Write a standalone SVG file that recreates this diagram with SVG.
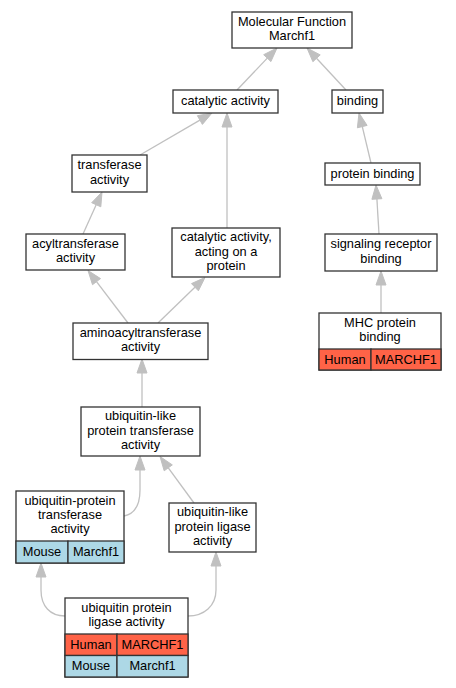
<svg xmlns="http://www.w3.org/2000/svg" width="456" height="688" viewBox="0 0 456 688">
<style>
.bg{fill:#ffffff}
.box{fill:#ffffff;stroke:#333333;stroke-width:1.3}
.cell{stroke:#333333;stroke-width:1.3}
.human{fill:#ff6347}
.mouse{fill:#add8e6}
text{font-family:"Liberation Sans",Arial,sans-serif;font-size:12.8px;fill:#000000;text-anchor:middle}
.edge{fill:none;stroke:#c0c0c0;stroke-width:1.3}
.head{fill:#c0c0c0;stroke:#c0c0c0;stroke-width:1}
</style>
<rect class="bg" x="0" y="0" width="456" height="688"/>
<g id="connectors">
<line class="edge" x1="237" y1="90" x2="267.3" y2="58.1"/>
<polygon class="head" points="277,48 270.9,61.6 263.7,54.7"/>
<line class="edge" x1="346" y1="90" x2="316.5" y2="58.3"/>
<polygon class="head" points="307,48 320.2,54.9 312.9,61.7"/>
<line class="edge" x1="140" y1="155" x2="199.9" y2="120.1"/>
<polygon class="head" points="212,113 202.4,124.4 197.4,115.7"/>
<line class="edge" x1="227" y1="228" x2="227" y2="127"/>
<polygon class="head" points="227,113 232,127 222,127"/>
<line class="edge" x1="371" y1="163" x2="362.3" y2="126.6"/>
<polygon class="head" points="359,113 367.1,125.4 357.4,127.8"/>
<line class="edge" x1="379" y1="234" x2="376.9" y2="199"/>
<polygon class="head" points="376,185 381.9,198.7 371.9,199.3"/>
<line class="edge" x1="381" y1="313" x2="381" y2="285"/>
<polygon class="head" points="381,271 386,285 376,285"/>
<line class="edge" x1="83" y1="234" x2="96.2" y2="204.8"/>
<polygon class="head" points="102,192 100.8,206.8 91.7,202.7"/>
<line class="edge" x1="128" y1="323" x2="96.5" y2="281.6"/>
<polygon class="head" points="88,270.5 100.5,278.6 92.5,284.7"/>
<line class="edge" x1="158" y1="323" x2="194.9" y2="287.2"/>
<polygon class="head" points="205,277.5 198.4,290.8 191.5,283.6"/>
<line class="edge" x1="142" y1="407" x2="142" y2="373"/>
<polygon class="head" points="142,359 147,373 137,373"/>
<path class="edge" d="M124,516 C134,514 140,505 140,490 L140,470"/>
<polygon class="head" points="140,456 145,470 135,470"/>
<line class="edge" x1="194" y1="503" x2="168.3" y2="467.8"/>
<polygon class="head" points="160,456.5 172.3,464.9 164.2,470.8"/>
<path class="edge" d="M65,616 C50,616 41,606 41,590 L41,577"/>
<polygon class="head" points="41,563 46,577 36,577"/>
<path class="edge" d="M188,616 C204,616 216,606 216,590 L216,566"/>
<polygon class="head" points="216,552 221,566 211,566"/>
</g>
<g id="node-molecular-function">
<rect class="box" x="232" y="12" width="120" height="36"/>
<text x="292" y="25.9">Molecular Function</text>
<text x="292" y="40.2">Marchf1</text>
</g>
<g id="node-catalytic-activity">
<rect class="box" x="173" y="90" width="105" height="23"/>
<text x="225.5" y="105">catalytic activity</text>
</g>
<g id="node-binding">
<rect class="box" x="332" y="90" width="51" height="23"/>
<text x="357.5" y="105">binding</text>
</g>
<g id="node-protein-binding">
<rect class="box" x="325" y="163" width="95" height="22"/>
<text x="372.5" y="177.5">protein binding</text>
</g>
<g id="node-transferase-activity">
<rect class="box" x="72" y="155" width="75" height="37"/>
<text x="109.5" y="169.4">transferase</text>
<text x="109.5" y="183.7">activity</text>
</g>
<g id="node-acyltransferase-activity">
<rect class="box" x="26" y="234" width="99" height="36"/>
<text x="75.5" y="247.9">acyltransferase</text>
<text x="75.5" y="262.2">activity</text>
</g>
<g id="node-catalytic-activity-protein">
<rect class="box" x="172" y="228" width="108" height="49"/>
<text x="226" y="241.2">catalytic activity,</text>
<text x="226" y="255.5">acting on a</text>
<text x="226" y="269.8">protein</text>
</g>
<g id="node-aminoacyltransferase-activity">
<rect class="box" x="73" y="323" width="135" height="36.5"/>
<text x="140.5" y="337.1">aminoacyltransferase</text>
<text x="140.5" y="351.4">activity</text>
</g>
<g id="node-signaling-receptor-binding">
<rect class="box" x="325" y="234" width="112" height="37"/>
<text x="381" y="248.4">signaling receptor</text>
<text x="381" y="262.7">binding</text>
</g>
<g id="node-mhc-protein-binding">
<rect class="box" x="319" y="313" width="122" height="57"/>
<text x="380" y="326.9">MHC protein</text>
<text x="380" y="341.2">binding</text>
<rect class="cell human" x="319" y="349" width="52" height="21"/>
<rect class="cell human" x="371" y="349" width="70" height="21"/>
<text x="345" y="363.5">Human</text>
<text x="406" y="363.5">MARCHF1</text>
</g>
<g id="node-ubiquitin-like-protein-transferase-activity">
<rect class="box" x="81" y="407" width="119" height="49"/>
<text x="140.5" y="420.2">ubiquitin-like</text>
<text x="140.5" y="434.5">protein transferase</text>
<text x="140.5" y="448.8">activity</text>
</g>
<g id="node-ubiquitin-protein-transferase-activity">
<rect class="box" x="16" y="491" width="108" height="72"/>
<text x="70" y="504.7">ubiquitin-protein</text>
<text x="70" y="519">transferase</text>
<text x="70" y="533.3">activity</text>
<rect class="cell mouse" x="16" y="541" width="52" height="22"/>
<rect class="cell mouse" x="68" y="541" width="56" height="22"/>
<text x="42" y="556">Mouse</text>
<text x="96" y="556">Marchf1</text>
</g>
<g id="node-ubiquitin-like-protein-ligase-activity">
<rect class="box" x="169" y="503" width="87" height="49"/>
<text x="212.5" y="516.2">ubiquitin-like</text>
<text x="212.5" y="530.5">protein ligase</text>
<text x="212.5" y="544.8">activity</text>
</g>
<g id="node-ubiquitin-protein-ligase-activity">
<rect class="box" x="65" y="598" width="123" height="79"/>
<text x="126.5" y="611.9">ubiquitin protein</text>
<text x="126.5" y="626.2">ligase activity</text>
<rect class="cell human" x="65" y="634" width="52" height="21.5"/>
<rect class="cell human" x="117" y="634" width="71" height="21.5"/>
<text x="91" y="649">Human</text>
<text x="152.5" y="649">MARCHF1</text>
<rect class="cell mouse" x="65" y="655.5" width="52" height="21.5"/>
<rect class="cell mouse" x="117" y="655.5" width="71" height="21.5"/>
<text x="91" y="670">Mouse</text>
<text x="152.5" y="670">Marchf1</text>
</g>
</svg>
